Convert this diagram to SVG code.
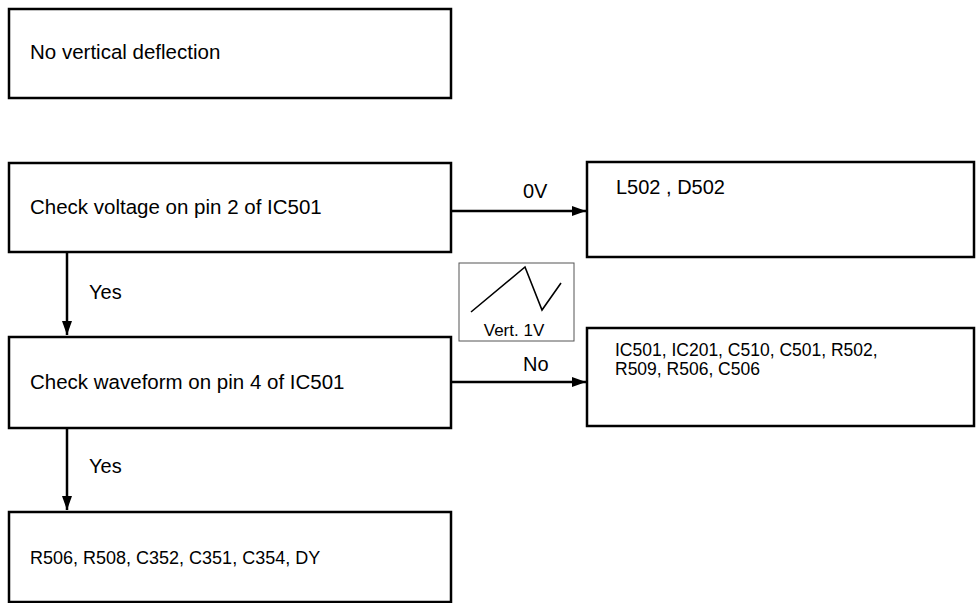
<svg xmlns="http://www.w3.org/2000/svg" width="976" height="603" viewBox="0 0 976 603">
<style>
.box{fill:#fff;stroke:#000;stroke-width:2.5}
.t{font-family:"Liberation Sans",Arial,sans-serif;font-size:20.5px;fill:#000}
.s{font-size:18px}
.r{font-size:17.5px}
.lbl{font-family:"Liberation Sans",Arial,sans-serif;font-size:20px;fill:#000}
.c{stroke:#000;stroke-width:2.5;fill:none}
</style>
<defs>
<marker id="ah" viewBox="0 0 14 10" refX="14" refY="5" markerWidth="14" markerHeight="10" markerUnits="userSpaceOnUse" orient="auto">
<path d="M0,0 L14,5 L0,10 Z" fill="#000"/>
</marker>
</defs>
<rect width="976" height="603" fill="#fff"/>
<g id="n1"><rect class="box" x="9" y="9" width="442" height="89"/><text class="t" x="30" y="59">No vertical deflection</text></g>
<g id="n2"><rect class="box" x="9" y="163" width="442" height="89"/><text class="t" x="30" y="214">Check voltage on pin 2 of IC501</text></g>
<g id="n3"><rect class="box" x="587" y="162" width="387" height="95"/><text class="t" x="616" y="194" style="font-size:20px">L502 , D502</text></g>
<g id="n4"><rect class="box" x="9" y="337" width="442" height="91"/><text class="t" x="30" y="389">Check waveform on pin 4 of IC501</text></g>
<g id="n5"><rect class="box" x="587" y="328" width="387" height="98"/><text class="t r" x="615" y="356">IC501, IC201, C510, C501, R502,</text><text class="t r" x="615" y="375">R509, R506, C506</text></g>
<g id="n6"><rect class="box" x="9" y="512" width="442" height="90"/><text class="t s" x="30" y="564">R506, R508, C352, C351, C354, DY</text></g>
<g id="wave"><rect x="459" y="263" width="115" height="78" fill="#fff" stroke="#555" stroke-width="1"/><polyline points="471,312 525,267 542,310 561,283" fill="none" stroke="#000" stroke-width="1.6"/><text x="514" y="336" text-anchor="middle" font-family="Liberation Sans,Arial,sans-serif" font-size="17">Vert. 1V</text></g>
<g id="connectors">
<line class="c" x1="451" y1="211" x2="586" y2="211" marker-end="url(#ah)"/>
<text class="lbl" x="523" y="198">0V</text>
<line class="c" x1="67" y1="252" x2="67" y2="335" marker-end="url(#ah)"/>
<text class="lbl" x="89" y="299">Yes</text>
<line class="c" x1="451" y1="382" x2="586" y2="382" marker-end="url(#ah)"/>
<text class="lbl" x="523" y="371">No</text>
<line class="c" x1="67" y1="428" x2="67" y2="510" marker-end="url(#ah)"/>
<text class="lbl" x="89" y="473">Yes</text>
</g>
</svg>
